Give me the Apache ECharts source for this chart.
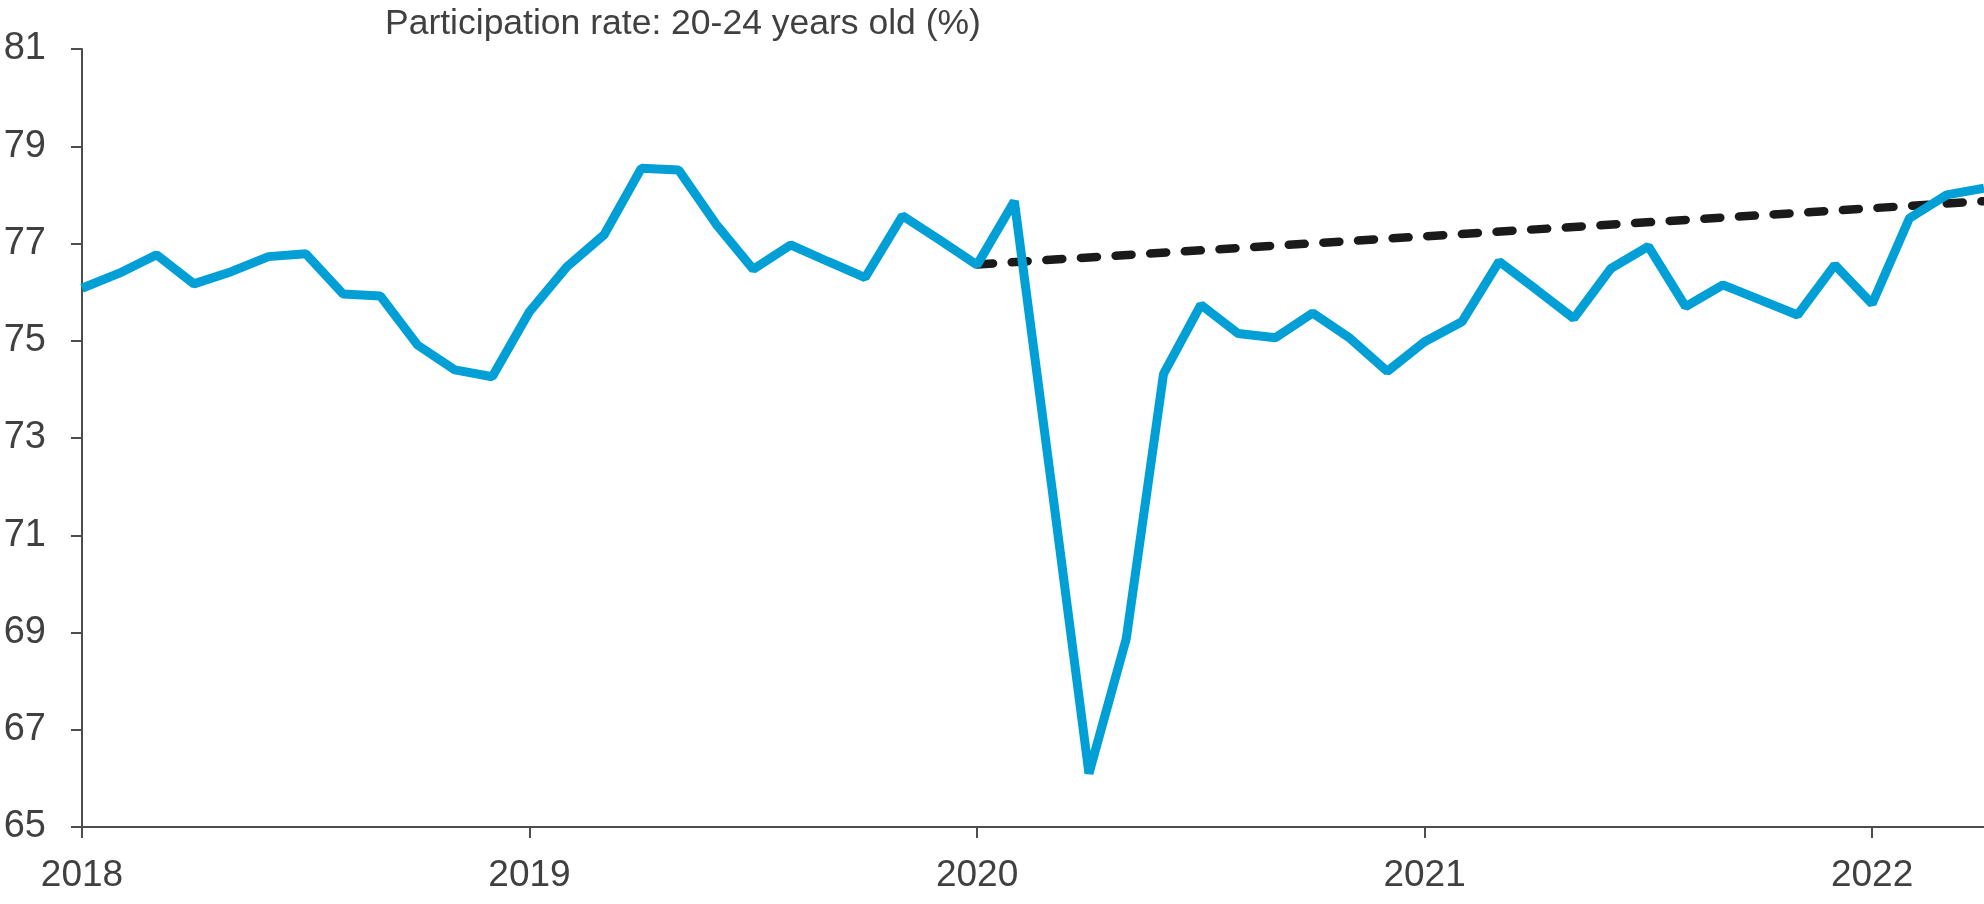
<!DOCTYPE html>
<html>
<head>
<meta charset="utf-8">
<script src="https://cdn.jsdelivr.net/npm/echarts@6/dist/echarts.min.js"></script>
<style>
  html, body { margin: 0; padding: 0; background: #ffffff; }
  #chart { width: 1984px; height: 904px; }
</style>
</head>
<body>
<div id="chart"></div>
<script>
// months since Jan 2018 (0 = Jan 2018 ... 51 = Apr 2022)
const participation = [
  76.08, 76.39, 76.77, 76.17, 76.42, 76.73, 76.79, 75.96, 75.92, 74.91, 74.40, 74.26,
  75.60, 76.52, 77.18, 78.55, 78.51, 77.40, 76.47, 76.97, 76.63, 76.30, 77.57, 77.07,
  76.56, 77.87, 72.02, 66.10, 68.87, 74.32, 75.74, 75.15, 75.06, 75.57, 75.05, 74.37,
  74.98, 75.39, 76.63, 76.05, 75.46, 76.49, 76.94, 75.70, 76.15, 75.84, 75.53, 76.56,
  75.76, 77.52, 78.00, 78.14
];
// pre-pandemic trend, from Jan 2020 onwards
const trendMonths = [24, 51];
const trendValues = [76.57, 77.87];

const yearTicks = [0, 12, 24, 36, 48];
const yearLabels = ['2018', '2019', '2020', '2021', '2022'];

const titleText = 'Participation rate: 20-24 years old (%)';

const chart = echarts.init(document.getElementById('chart'));
const font = "'Liberation Sans', Arial, sans-serif";

chart.setOption({
  backgroundColor: '#ffffff',
  animation: false,
  title: {
    text: titleText,
    left: 385,
    top: 6,
    padding: 0,
    textStyle: { fontFamily: font, fontSize: 35.5, fontWeight: 'normal', color: '#404040' }
  },
  grid: { left: 82, top: 49, width: 1904, height: 778 },
  xAxis: {
    type: 'value',
    min: 0,
    max: 51,
    axisLine: { show: true, lineStyle: { color: '#4d4d4d', width: 2 } },
    axisTick: { show: true, length: 11, customValues: yearTicks, lineStyle: { color: '#4d4d4d', width: 2 } },
    axisLabel: {
      customValues: yearTicks,
      margin: 30,
      fontFamily: font,
      fontSize: 37,
      color: '#404040',
      formatter: function (v) { return yearLabels[yearTicks.indexOf(v)] || ''; }
    },
    splitLine: { show: false }
  },
  yAxis: {
    type: 'value',
    min: 65,
    max: 81,
    interval: 2,
    axisLine: { show: true, lineStyle: { color: '#4d4d4d', width: 2 } },
    axisTick: { show: true, length: 11, lineStyle: { color: '#4d4d4d', width: 2 } },
    axisLabel: { margin: 36, fontFamily: font, fontSize: 38, color: '#404040', padding: [7, 0, 0, 0] },
    splitLine: { show: false }
  },
  series: [
    {
      name: 'Trend',
      type: 'line',
      data: trendMonths.map((m, i) => [m, trendValues[i]]),
      showSymbol: false,
      lineStyle: { color: '#1a1a1a', width: 8.5, type: [16, 18.7], cap: 'round' },
      z: 2
    },
    {
      name: 'Participation rate',
      type: 'line',
      data: participation.map((v, i) => [i, v]),
      showSymbol: false,
      lineStyle: { color: '#00a0d6', width: 9 },
      z: 3
    }
  ]
});
</script>
</body>
</html>
